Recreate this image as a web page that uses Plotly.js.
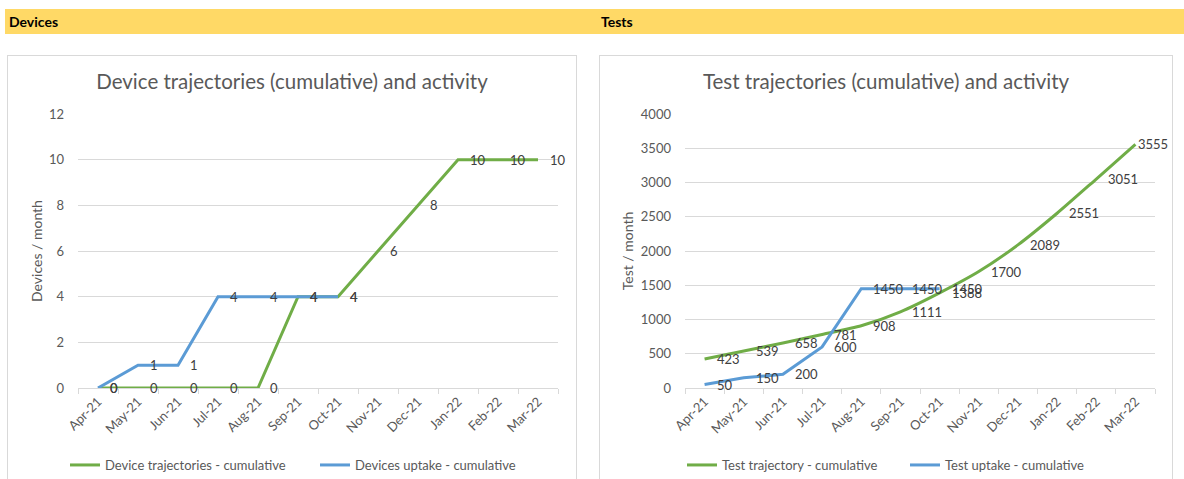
<!DOCTYPE html>
<html>
<head>
<meta charset="utf-8">
<script src="https://cdn.plot.ly/plotly-3.0.1.min.js"></script>
<style>
  html, body { margin:0; padding:0; background:#ffffff; width:1184px; height:479px; overflow:hidden; position:relative; font-family: Lato, "Open Sans", sans-serif; }
  .band { position:absolute; left:5px; top:9px; width:1179px; height:25px; background:#FFD966; }
  .hdr { position:absolute; top:9px; height:25px; line-height:25px; font-weight:bold; font-size:14px; color:#000; }
  .box { position:absolute; top:55px; border:1px solid #d9d9d9; border-bottom:none; box-sizing:border-box; }
  .chart { position:absolute; left:0; top:0; }
</style>
</head>
<body>
<div class="band"></div>
<div class="hdr" style="left:9px;">Devices</div>
<div class="hdr" style="left:601px;">Tests</div>
<div class="box" style="left:7px; width:570px; height:424px;"><div id="c1" class="chart"></div></div>
<div class="box" style="left:599px; width:574px; height:424px;"><div id="c2" class="chart"></div></div>
<script>
const months = ["Apr-21","May-21","Jun-21","Jul-21","Aug-21","Sep-21","Oct-21","Nov-21","Dec-21","Jan-22","Feb-22","Mar-22"];

// Devices chart
const deviceTrajectory = [0, 0, 0, 0, 0, 4, 4, 6, 8, 10, 10, 10];
const deviceUptake     = [0, 1, 1, 4, 4, 4, 4, null, null, null, null, null];
const deviceTicks = [0, 2, 4, 6, 8, 10, 12];

// Tests chart
const testTrajectory = [423, 539, 658, 781, 908, 1111, 1388, 1700, 2089, 2551, 3051, 3555];
const testUptake     = [50, 150, 200, 600, 1450, 1450, 1450, null, null, null, null, null];
const testTicks = [0, 500, 1000, 1500, 2000, 2500, 3000, 3500, 4000];

const GREEN = "#70AD47", BLUE = "#5B9BD5";
const FONT = "Lato, 'Open Sans', sans-serif";
const GREY = "#595959";
const H = 423;

function labels(vals, lastShift) {
  const out = [];
  vals.forEach((v, i) => {
    if (v === null) return;
    const shift = (i === vals.length - 1 && lastShift !== undefined) ? lastShift : 10;
    out.push({x: months[i], y: v, xref: "x", yref: "y", text: String(v), showarrow: false,
      xanchor: "left", yanchor: "middle", xshift: shift, font: {family: FONT, size: 13, color: "#404040"}});
  });
  return out;
}

function legendAt(x) {
  return {orientation: "h", x: x, xanchor: "left", xref: "container", y: 14 / H, yref: "container", yanchor: "middle",
    font: {family: FONT, size: 13, color: GREY}, itemwidth: 30, bgcolor: "rgba(0,0,0,0)"};
}

function makeLayout(title, ytitle, ticks, w, l, r, legX1, legX2, labelAnns) {
  return {
    width: w, height: H,
    margin: {l: l, r: r, t: 58, b: 91, autoexpand: false},
    paper_bgcolor: "#ffffff", plot_bgcolor: "#ffffff",
    showlegend: true,
    title: {text: title, x: 0.5, xanchor: "center", xref: "container", y: 1 - 26 / H, yref: "container", yanchor: "middle",
      font: {family: FONT, size: 20.5, color: GREY}},
    legend: legendAt(legX1),
    legend2: legendAt(legX2),
    xaxis: {type: "category", categoryarray: months, range: [-0.5, 11.5], showgrid: false, showline: true,
      linecolor: "#d9d9d9", linewidth: 1, ticks: "outside", tickson: "boundaries", ticklen: 5, tickcolor: "#d9d9d9",
      tickangle: -45, tickfont: {family: FONT, size: 13, color: GREY}, automargin: false, fixedrange: true},
    yaxis: {range: [ticks[0], ticks[ticks.length - 1]], tickvals: ticks, ticktext: ticks.map(String),
      showgrid: true, gridcolor: "#d9d9d9", gridwidth: 1, zeroline: false, showline: false,
      ticks: "", ticklabelstandoff: 13, tickfont: {family: FONT, size: 13, color: GREY}, automargin: false,
      title: {text: ytitle, font: {family: FONT, size: 14, color: GREY}, standoff: 3}, fixedrange: true},
    annotations: labelAnns
  };
}

const t1 = [
  {x: months, y: deviceTrajectory, type: "scatter", mode: "lines", name: "Device trajectories - cumulative",
    line: {color: GREEN, width: 3}, hoverinfo: "skip", legend: "legend"},
  {x: months, y: deviceUptake, type: "scatter", mode: "lines", name: "Devices uptake - cumulative",
    line: {color: BLUE, width: 3}, hoverinfo: "skip", legend: "legend2"}
];
const l1 = makeLayout("Device trajectories (cumulative) and activity", "Devices / month", deviceTicks,
  568, 70, 18, (65 - 8) / 568, (315 - 8) / 568, labels(deviceTrajectory).concat(labels(deviceUptake)));
Plotly.newPlot("c1", t1, l1, {staticPlot: true});

const t2 = [
  {x: months, y: testTrajectory, type: "scatter", mode: "lines", name: "Test trajectory - cumulative",
    line: {color: GREEN, width: 3, shape: "spline", smoothing: 0.6}, hoverinfo: "skip", legend: "legend"},
  {x: months, y: testUptake, type: "scatter", mode: "lines", name: "Test uptake - cumulative",
    line: {color: BLUE, width: 3}, hoverinfo: "skip", legend: "legend2"}
];
const l2 = makeLayout("Test trajectories (cumulative) and activity", "Test / month", testTicks,
  572, 85, 17, (682 - 600) / 572, (905 - 600) / 572, labels(testTrajectory, 1).concat(labels(testUptake)));
Plotly.newPlot("c2", t2, l2, {staticPlot: true});
</script>
</body>
</html>
